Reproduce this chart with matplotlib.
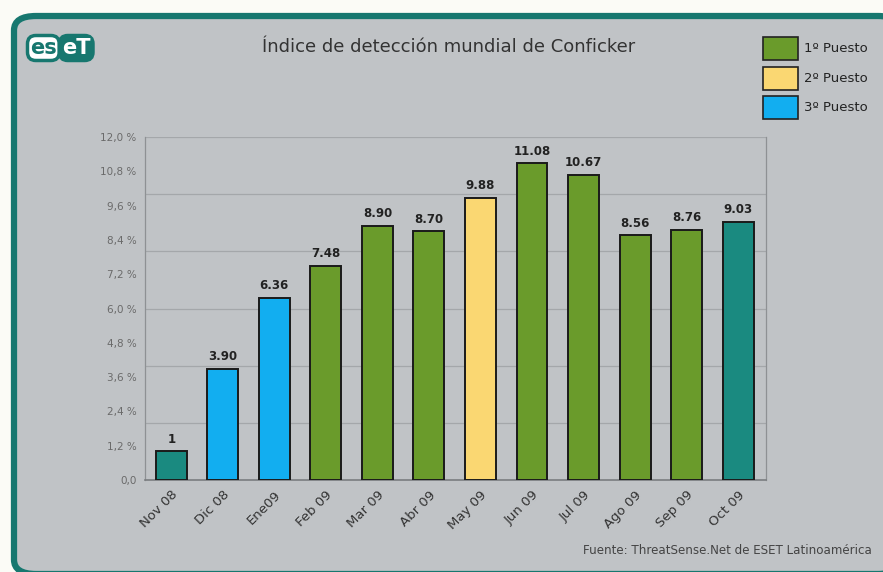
import matplotlib
matplotlib.use("Agg")

import matplotlib.pyplot as plt
from matplotlib.patches import FancyBboxPatch, Rectangle

# ---- data ----
months = ["Nov 08", "Dic 08", "Ene09", "Feb 09", "Mar 09", "Abr 09",
          "May 09", "Jun 09", "Jul 09", "Ago 09", "Sep 09", "Oct 09"]
values = [1.0, 3.90, 6.36, 7.48, 8.90, 8.70, 9.88, 11.08, 10.67, 8.56, 8.76, 9.03]
value_labels = ["1", "3.90", "6.36", "7.48", "8.90", "8.70", "9.88",
                "11.08", "10.67", "8.56", "8.76", "9.03"]
puesto = [0, 3, 3, 1, 1, 1, 2, 1, 1, 1, 1, 0]   # 0 = current month
legend_labels = ["1º Puesto", "2º Puesto", "3º Puesto"]
ytick_vals = [0.0, 1.2, 2.4, 3.6, 4.8, 6.0, 7.2, 8.4, 9.6, 10.8, 12.0]
ytick_labels = ["0,0", "1,2 %", "2,4 %", "3,6 %", "4,8 %", "6,0 %",
                "7,2 %", "8,4 %", "9,6 %", "10,8 %", "12,0 %"]
grid_vals = [2, 4, 6, 8, 10, 12]

colors = {0: "#1a8a80", 1: "#6a9b2b", 2: "#fad772", 3: "#12aef0"}
teal = "#17776f"

W, H = 883, 572
fig = plt.figure(figsize=(W / 100, H / 100), dpi=100)
fig.patch.set_facecolor("#fbfbf6")

def fx(px):
    return px / W

def fy(py):
    return 1 - py / H

# ---- panel with teal border ----
panel = FancyBboxPatch((fx(14), fy(574)), fx(900) - fx(14), fy(16) - fy(574),
                       boxstyle="round,pad=0,rounding_size=0.025",
                       transform=fig.transFigure, facecolor="#c0c3c6",
                       edgecolor=teal, linewidth=4.5, zorder=-5)
fig.patches.append(panel)

# ---- logo ----
fig.text(fx(30), fy(48), "es", transform=fig.transFigure, fontsize=15,
         fontweight="bold", color=teal, va="center", ha="left",
         bbox=dict(boxstyle="round,pad=0.12,rounding_size=0.4", facecolor="white",
                   edgecolor=teal, linewidth=2.5))
fig.text(fx(62), fy(48), "eT", transform=fig.transFigure, fontsize=15,
         fontweight="bold", color="white", va="center", ha="left",
         bbox=dict(boxstyle="round,pad=0.12,rounding_size=0.4", facecolor=teal,
                   edgecolor=teal, linewidth=2.5))

# ---- title ----
fig.text(fx(449), fy(47), "Índice de detección mundial de Conficker",
         ha="center", va="center", fontsize=13, color="#333333")

# ---- legend ----
for i, lab in enumerate(legend_labels):
    top = 37 + i * 29.5
    fig.patches.append(Rectangle((fx(763), fy(top + 23)), fx(35), fy(top) - fy(top + 23),
                                 transform=fig.transFigure, facecolor=colors[i + 1],
                                 edgecolor="#222222", linewidth=1.2))
    fig.text(fx(804), fy(top + 11.5), lab, ha="left", va="center",
             fontsize=9.5, color="#222222")

# ---- chart ----
ax = fig.add_axes([fx(145), fy(480), fx(766) - fx(145), fy(137) - fy(480)])
ax.set_zorder(2)
ax.patch.set_visible(False)

for g in grid_vals:
    ax.axhline(g, color="#a4a7aa", linewidth=0.9, zorder=1)

x = list(range(len(months)))
bars = ax.bar(x, values, width=0.6, color=[colors[p] for p in puesto],
              edgecolor="#1a1a1a", linewidth=1.4, zorder=3)
for xi, v, lab in zip(x, values, value_labels):
    ax.text(xi, v + 0.2, lab, ha="center", va="bottom", fontsize=8.5,
            fontweight="semibold", color="#222222", zorder=4)

ax.set_xlim(-0.51, 11.54)
ax.set_ylim(0, 12)
ax.set_yticks(ytick_vals)
ax.set_yticklabels(ytick_labels, fontsize=7.5, color="#6a6a6a")
ax.set_xticks(x)
ax.set_xticklabels(months, rotation=45, ha="right", rotation_mode="anchor",
                   fontsize=9.5, color="#333333")
ax.tick_params(axis="both", length=0, pad=6)
ax.tick_params(axis="x", pad=6)

for side in ["left", "right"]:
    ax.spines[side].set_color("#8e9194")
    ax.spines[side].set_linewidth(0.9)
ax.spines["top"].set_visible(False)
ax.spines["bottom"].set_color("#7a7d80")
ax.spines["bottom"].set_linewidth(1.2)

# ---- source ----
fig.text(fx(872), fy(551), "Fuente: ThreatSense.Net de ESET Latinoamérica",
         ha="right", va="center", fontsize=8.6, color="#444444")

plt.savefig("out.png", dpi=100, facecolor=fig.get_facecolor())
plt.close()
